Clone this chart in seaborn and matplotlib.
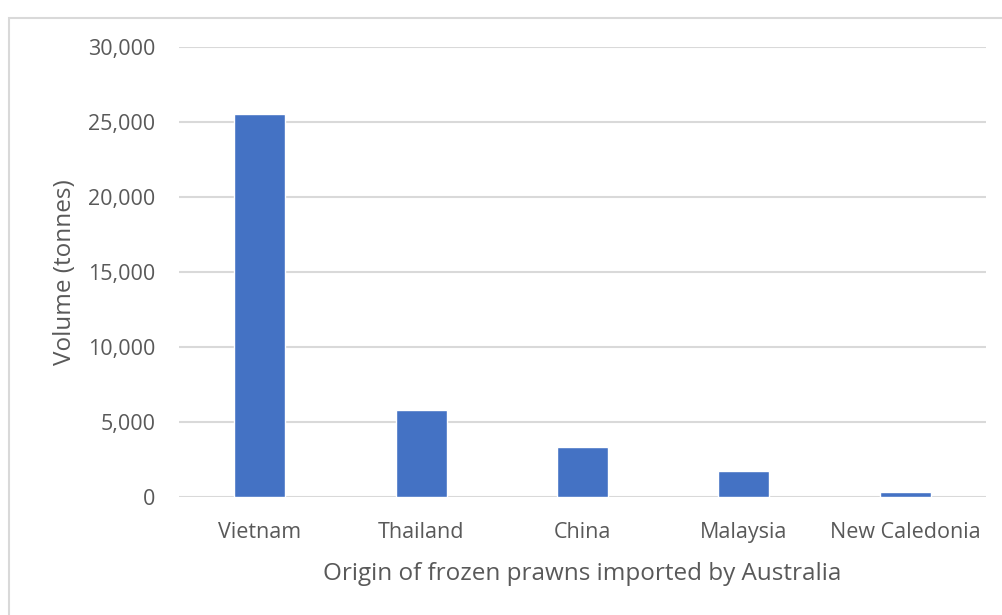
import matplotlib
matplotlib.use("Agg")
import matplotlib.pyplot as plt
import seaborn as sns
import pandas as pd
from matplotlib.ticker import FuncFormatter, MultipleLocator
from matplotlib.patches import Rectangle

# Frozen prawn imports by country of origin
countries = ["Vietnam", "Thailand", "China", "Malaysia", "New Caledonia"]
volumes = [25500, 5800, 3300, 1700, 320]

df = pd.DataFrame({"country": countries, "volume": volumes})

sns.set_theme(style="white")
plt.rcParams["font.family"] = ["Open Sans", "DejaVu Sans"]

fig = plt.figure(figsize=(10.03, 6.15), dpi=100)
ax = fig.add_axes([179 / 1003, 0.1919, 807 / 1003, 0.7317])

# Outer chart frame
fig.patches.append(Rectangle((9 / 1003, -0.1), 1.2, 1 - 18 / 615 + 0.1,
                             transform=fig.transFigure, fill=False,
                             edgecolor="#D9D9D9", linewidth=1.5))

sns.barplot(data=df, x="country", y="volume", color="#4472C4",
            width=0.316, saturation=1, ax=ax, zorder=3)

ax.set_ylim(0, 30000)
ax.set_xlim(-0.5, len(countries) - 0.5)
ax.yaxis.set_major_locator(MultipleLocator(5000))
ax.yaxis.set_major_formatter(FuncFormatter(lambda v, p: f"{int(v):,}"))
ax.grid(axis="y", color="#D9D9D9", linewidth=1.5, zorder=0)
ax.set_axisbelow(True)
for s in ax.spines.values():
    s.set_visible(False)

ax.tick_params(axis="both", length=0, labelsize=15.5, colors="#595959")
ax.tick_params(axis="y", pad=17)
ax.tick_params(axis="x", pad=18)

ax.set_xlabel("Origin of frozen prawns imported by Australia",
              fontsize=17.5, color="#595959", labelpad=14)
ax.set_ylabel("Volume (tonnes)", fontsize=17.5, color="#595959", labelpad=8)

fig.savefig("out.png", dpi=100, facecolor="white")
